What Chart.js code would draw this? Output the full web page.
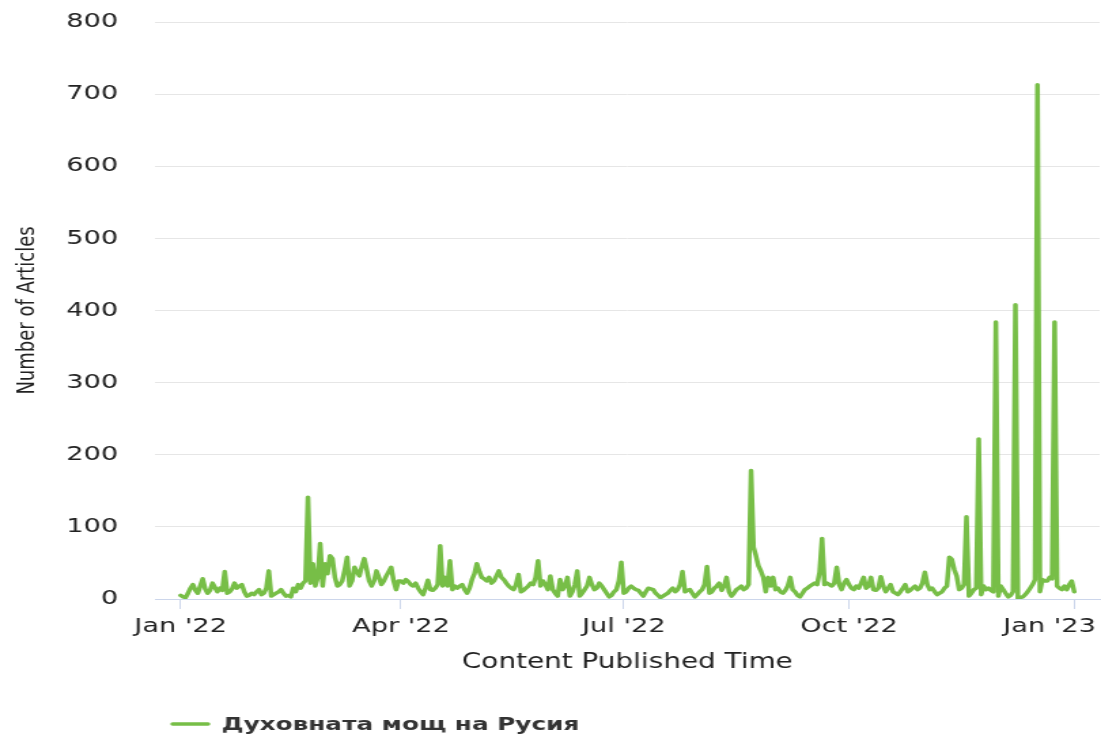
<!DOCTYPE html>
<html><head><meta charset="utf-8">
<script src="https://cdn.jsdelivr.net/npm/chart.js@4.4.1/dist/chart.umd.min.js"></script>
<style>
html,body{margin:0;padding:0;background:#fff;overflow:hidden;}
#wrap{width:1101px;height:738px;position:relative;overflow:hidden;}
#c{position:absolute;left:0;top:0;transform:scaleX(1.359259);transform-origin:0 0;}
</style></head><body>
<div id="wrap"><canvas id="c" width="810" height="738"></canvas></div>
<script>
// Daily article counts, 1 Jan 2022 .. 1 Jan 2023
const jan22 = [5,3,2,8,15,20,12,8,18,28,14,8,12,22,16,10,15,12,38,8,10,14,22,15,18,20,10,4,5,8,6];
const feb22 = [10,13,6,8,15,39,4,6,8,10,13,8,4,5,3,15,10,20,15,22,25,141,22,49,18,30,77,18];
const mar22 = [49,35,60,56,30,18,20,25,40,58,18,25,44,38,32,45,56,41,25,18,25,39,30,20,25,32,38,44,25,13,25];
const apr22 = [25,22,27,24,20,18,22,15,10,6,15,26,13,12,15,20,74,18,30,18,53,13,18,15,18,20,13,8,15,27];
const may22 = [35,49,38,30,28,25,30,22,25,32,39,30,27,22,18,15,13,20,34,10,12,15,18,22,20,30,53,18,25,20,13];
const jun22 = [32,13,8,4,27,13,18,30,4,10,20,39,4,8,13,18,30,20,13,15,22,18,13,8,3,5,10,13,25,51];
const jul22 = [8,10,15,18,15,13,12,8,4,10,15,14,13,8,5,2,4,6,8,12,15,10,13,20,38,10,12,13,8,3,6];
const aug22 = [10,13,20,45,8,10,15,18,22,12,18,30,10,4,8,13,15,18,13,15,20,178,72,60,46,39,30,10,30,18,30];
const sep22 = [13,15,10,8,12,18,30,13,10,5,3,8,13,15,18,20,22,20,37,84,20,22,20,18,22,44,20,13,22,27];
const oct22 = [20,15,13,18,15,22,30,15,18,30,13,12,15,31,18,10,15,20,10,8,6,10,15,20,10,12,15,18,13,15,22];
const nov22 = [37,20,13,15,10,6,8,10,15,18,58,55,41,32,13,15,20,114,4,8,13,15,222,6,18,13,15,12,10,384];
const dec22 = [4,18,13,8,3,5,10,408,1,2,3,6,10,15,20,27,713,10,27,25,25,30,28,384,18,15,13,18,13,20,25];
const jan23 = [10];

const tickDays = [0, 90, 181, 273, 365];
const tickLabels = ["Jan '22", "Apr '22", "Jul '22", "Oct '22", "Jan '23"];
const seriesName = "Духовната мощ на Русия";
const yTitle = "Number of Articles";
const xTitle = "Content Published Time";

const values = [].concat(jan22, feb22, mar22, apr22, may22, jun22, jul22, aug22, sep22, oct22, nov22, dec22, jan23);
const points = values.map((v, i) => ({x: i, y: v}));

const GREEN = '#77be47';

const legendPlugin = {
  id: 'customLegend',
  afterDraw(chart) {
    const ctx = chart.ctx;
    ctx.save();
    ctx.strokeStyle = GREEN;
    ctx.lineWidth = 3.5;
    ctx.lineCap = 'round';
    ctx.beginPath();
    ctx.moveTo(127, 724);
    ctx.lineTo(153, 724);
    ctx.stroke();
    ctx.fillStyle = '#333333';
    ctx.font = 'bold 18.2px "DejaVu Sans"';
    ctx.textBaseline = 'middle';
    ctx.textAlign = 'left';
    ctx.fillText(seriesName, 163, 725);
    ctx.restore();
  }
};

new Chart(document.getElementById('c'), {
  type: 'line',
  data: {
    datasets: [{
      label: seriesName,
      data: points,
      borderColor: GREEN,
      backgroundColor: GREEN,
      borderWidth: 3.5,
      pointRadius: 0,
      tension: 0,
      borderJoinStyle: 'round',
      borderCapStyle: 'round',
      fill: false
    }]
  },
  options: {
    responsive: false,
    animation: false,
    events: [],
    layout: { padding: { top: 22, right: 1, bottom: 0, left: 0 } },
    plugins: { legend: { display: false }, tooltip: { enabled: false } },
    scales: {
      x: {
        type: 'linear',
        min: -10.5,
        max: 375.4,
        afterFit: (s) => { s.height = 139; s.paddingLeft = 0; s.paddingRight = 0; },
        afterBuildTicks: (s) => { s.ticks = tickDays.map(v => ({value: v})); },
        ticks: {
          autoSkip: false, maxRotation: 0, padding: 6,
          color: '#222222',
          font: { family: '"DejaVu Sans"', size: 20 },
          callback: (v) => {
            const k = tickDays.indexOf(v);
            if (k < 0) return '';
            // keep the last label inside the plot edge, as in the original
            return k === tickLabels.length - 1 ? tickLabels[k] + '\u2002\u2003\u0020' : tickLabels[k];
          }
        },
        grid: { drawOnChartArea: false, drawTicks: true, tickLength: 10, color: '#ccd6eb', lineWidth: 1 },
        border: { display: true, color: '#ccd6eb', width: 1 },
        title: {
          display: true, text: xTitle, color: '#222222',
          font: { family: '"DejaVu Sans"', size: 20.5 },
          padding: { top: 0, bottom: 63 }
        }
      },
      y: {
        min: 0, max: 800,
        afterFit: (s) => { s.width = 114; s.paddingTop = 0; s.paddingBottom = 0; },
        ticks: {
          stepSize: 100, padding: 27, color: '#222222',
          font: { family: '"DejaVu Sans"', size: 20 }
        },
        grid: { color: '#e6e6e6', lineWidth: 1, drawTicks: false },
        border: { display: false },
        title: {
          display: true, text: yTitle, color: '#222222',
          font: { family: '"DejaVu Sans"', size: 18 },
          padding: { top: 10, bottom: 0 }
        }
      }
    }
  },
  plugins: [legendPlugin]
});
</script>
</body></html>
